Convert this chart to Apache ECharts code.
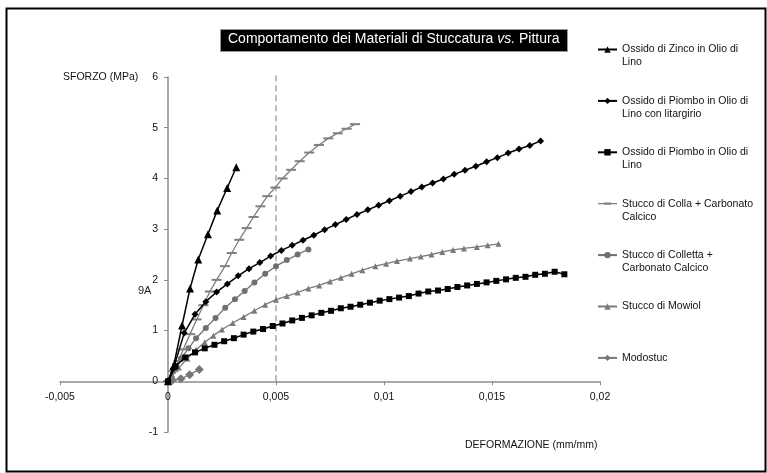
<!DOCTYPE html>
<html><head><meta charset="utf-8">
<script src="https://cdn.jsdelivr.net/npm/echarts@6/dist/echarts.min.js"></script>
<style>html,body{margin:0;padding:0;background:#fff}#c{width:767px;height:473px}</style>
</head><body><div id="c"></div>
<script>
// ---- data ----
const names = [
  'Ossido di Zinco in Olio di Lino',
  'Ossido di Piombo in Olio di Lino con litargirio',
  'Ossido di Piombo in Olio di Lino',
  'Stucco di Colla + Carbonato Calcico',
  'Stucco di Colletta + Carbonato Calcico',
  'Stucco di Mowiol',
  'Modostuc'
];
const legendLabels = [
  'Ossido di Zinco in Olio di\nLino',
  'Ossido di Piombo in Olio di\nLino con litargirio',
  'Ossido di Piombo in Olio di\nLino',
  'Stucco di Colla + Carbonato\nCalcico',
  'Stucco di Colletta +\nCarbonato Calcico',
  'Stucco di Mowiol\n ',
  'Modostuc\n '
];
const zincX = [0, 0.00026, 0.00065, 0.00102, 0.0014, 0.00185, 0.00228, 0.00274, 0.00316];
const zincY = [0, 0.30, 1.10, 1.83, 2.40, 2.90, 3.37, 3.81, 4.22];

const litX = [0, 0.00025, 0.00075, 0.00125, 0.00175, 0.00225, 0.00275, 0.00325, 0.00375, 0.00425, 0.00475,
  0.00525, 0.00575, 0.00625, 0.00675, 0.00725, 0.00775, 0.00825, 0.00875, 0.00925, 0.00975, 0.01025,
  0.01075, 0.01125, 0.01175, 0.01225, 0.01275, 0.01325, 0.01375, 0.01425, 0.01475, 0.01525, 0.01575,
  0.01625, 0.01675, 0.01725];
const litY = [0, 0.25, 0.95, 1.32, 1.57, 1.76, 1.92, 2.08, 2.22, 2.34, 2.47,
  2.58, 2.68, 2.78, 2.88, 2.99, 3.09, 3.19, 3.29, 3.38, 3.47, 3.56,
  3.65, 3.74, 3.83, 3.91, 3.99, 4.08, 4.16, 4.24, 4.33, 4.41, 4.50,
  4.58, 4.65, 4.74];

const pbX = [0, 0.00035, 0.0008, 0.00125, 0.0017, 0.00215, 0.0026, 0.00305, 0.0035, 0.00395, 0.0044,
  0.00485, 0.0053, 0.00575, 0.0062, 0.00665, 0.0071, 0.00755, 0.008, 0.00845, 0.0089, 0.00935,
  0.0098, 0.01025, 0.0107, 0.01115, 0.0116, 0.01205, 0.0125, 0.01295, 0.0134, 0.01385, 0.0143,
  0.01475, 0.0152, 0.01565, 0.0161, 0.01655, 0.017, 0.01745, 0.0179, 0.01835];
const pbY = [0, 0.30, 0.47, 0.57, 0.65, 0.72, 0.79, 0.85, 0.92, 0.98, 1.03,
  1.09, 1.14, 1.20, 1.25, 1.30, 1.35, 1.39, 1.44, 1.47, 1.51, 1.55,
  1.59, 1.62, 1.65, 1.68, 1.73, 1.77, 1.79, 1.82, 1.86, 1.89, 1.92,
  1.95, 1.98, 2.01, 2.04, 2.06, 2.10, 2.12, 2.16, 2.11];

const collaX = [0, 0.00025, 0.00048, 0.00071, 0.00102, 0.00133, 0.00164, 0.00194, 0.00225, 0.00264, 0.00295,
  0.0033, 0.00364, 0.00396, 0.00428, 0.0046, 0.00497, 0.0053, 0.0057, 0.0061, 0.00654, 0.00699,
  0.00742, 0.00786, 0.00827, 0.00866];
const collaY = [0, 0.20, 0.40, 0.63, 0.93, 1.22, 1.50, 1.77, 2.00, 2.27, 2.53,
  2.79, 3.02, 3.24, 3.45, 3.65, 3.82, 4.00, 4.17, 4.34, 4.51, 4.66,
  4.79, 4.89, 4.98, 5.07];

const collettaX = [0, 0.00025, 0.0006, 0.00095, 0.0013, 0.00175, 0.0022, 0.00265, 0.0031, 0.00355, 0.004,
  0.0045, 0.005, 0.0055, 0.006, 0.0065];
const collettaY = [0, 0.20, 0.45, 0.65, 0.85, 1.05, 1.25, 1.45, 1.62, 1.78, 1.95,
  2.12, 2.27, 2.39, 2.50, 2.60];

const mowiolX = [0, 0.0002, 0.0005, 0.0009, 0.0013, 0.0017, 0.0021, 0.0025, 0.003, 0.0035, 0.004,
  0.0045, 0.005, 0.0055, 0.006, 0.0065, 0.007, 0.0075, 0.008, 0.0085, 0.009, 0.0096,
  0.0101, 0.0106, 0.0112, 0.0117, 0.0122, 0.0127, 0.0132, 0.0137, 0.0143, 0.0148, 0.0153];
const mowiolY = [0, 0.12, 0.27, 0.45, 0.62, 0.77, 0.90, 1.02, 1.15, 1.27, 1.39,
  1.51, 1.61, 1.68, 1.75, 1.83, 1.89, 1.97, 2.04, 2.12, 2.19, 2.27,
  2.32, 2.37, 2.42, 2.46, 2.50, 2.55, 2.59, 2.62, 2.65, 2.68, 2.71];

const modoX = [0, 0.0001, 0.0002, 0.0006, 0.001, 0.00145];
const modoY = [0, 0.01, 0.02, 0.05, 0.13, 0.23];

const refLineX = [0.005, 0.005];
const refLineY = [0, 6.1];

const xTickLabels = ['-0,005', '0', '0,005', '0,01', '0,015', '0,02'];
const yTickLabels = ['-1', '0', '1', '2', '3', '4', '5', '6'];
const xMin = -0.005, xMax = 0.02, xStep = 0.005;
const yMin = -1, yMax = 6, yStep = 1;

// ---- chart ----
const pair = (xs, ys) => xs.map((x, i) => [x, ys[i]]);
const FONT = 'Liberation Sans, Arial, sans-serif';
const chart = echarts.init(document.getElementById('c'), null, {renderer: 'canvas'});

const GRID = {left: 60, top: 77, width: 540, height: 355};
// pixel offsets so the axes sit on the zero lines (labels follow the line)
const yAxisOffset = -GRID.width * (0 - xMin) / (xMax - xMin);
const xAxisOffset = -GRID.height * (0 - yMin) / (yMax - yMin);

function mk(name, xs, ys, color, symbol, size, lw, z) {
  return {
    name: name, type: 'line', data: pair(xs, ys), symbol: symbol, symbolSize: size,
    showAllSymbol: true, smooth: false, z: z || 2,
    lineStyle: {color: color, width: lw}, itemStyle: {color: color, borderWidth: 0},
    emphasis: {disabled: true}, animation: false
  };
}

const legendData = names.map((n, i) => i === 3
  ? {name: n, icon: 'path://M0,3.4H19V4.6H0Z M6,2.9H13V5.1H6Z'}
  : {name: n});

const option = {
  animation: false,
  backgroundColor: '#fff',
  grid: Object.assign({containLabel: false}, GRID),
  xAxis: {
    type: 'value', min: xMin, max: xMax, interval: xStep, offset: xAxisOffset,
    axisLine: {onZero: false, lineStyle: {color: '#8c8c8c', width: 1.5}},
    axisTick: {show: true, length: 4, lineStyle: {color: '#8c8c8c'}},
    splitLine: {show: false},
    axisLabel: {
      margin: 10, color: '#111', fontFamily: FONT, fontSize: 10.5,
      formatter: v => xTickLabels[Math.round((v - xMin) / xStep)]
    }
  },
  yAxis: {
    type: 'value', min: yMin, max: yMax, interval: yStep, offset: yAxisOffset,
    axisLine: {show: true, onZero: false, lineStyle: {color: '#8c8c8c', width: 1.5}},
    axisTick: {show: true, length: 4, lineStyle: {color: '#8c8c8c'}},
    splitLine: {show: false},
    axisLabel: {
      margin: 10, color: '#111', fontFamily: FONT, fontSize: 10.5,
      formatter: v => yTickLabels[Math.round((v - yMin) / yStep)]
    }
  },
  legend: {
    orient: 'vertical', left: 597, top: 30, padding: 0, itemGap: 12.4,
    itemWidth: 19, itemHeight: 8,
    data: legendData,
    selectedMode: false,
    formatter: n => ' \n' + legendLabels[names.indexOf(n)],
    textStyle: {fontFamily: FONT, fontSize: 10.5, lineHeight: 13, color: '#111'}
  },
  graphic: [
    {type: 'rect', left: 4, top: 6, shape: {width: 759, height: 463}, style: {fill: 'none', stroke: '#000', lineWidth: 2}, z: 100},
    {type: 'rect', left: 220, top: 29, shape: {width: 347, height: 22}, style: {fill: '#000', stroke: '#999', lineWidth: 1}, z: 100},
    {type: 'text', left: 228, top: 32, z: 101, style: {
      text: '{n|Comportamento dei Materiali di Stuccatura }{i|vs.}{n| Pittura}',
      rich: {
        n: {fill: '#fff', fontFamily: FONT, fontSize: 14},
        i: {fill: '#fff', fontFamily: FONT, fontSize: 14, fontStyle: 'italic'}
      }
    }},
    {type: 'text', left: 63, top: 72, z: 101, style: {text: 'SFORZO (MPa)', fill: '#111', fontFamily: FONT, fontSize: 10.5}},
    {type: 'text', left: 465, top: 440, z: 101, style: {text: 'DEFORMAZIONE (mm/mm)', fill: '#111', fontFamily: FONT, fontSize: 10.5}},
    {type: 'text', left: 138, top: 285, z: 101, style: {text: '9A', fill: '#222', fontFamily: FONT, fontSize: 11}}
  ],
  series: [
    {
      name: 'ref', type: 'line', data: pair(refLineX, refLineY), symbol: 'none', clip: false, z: 1,
      lineStyle: {color: '#999', width: 1.3, type: [6, 4]}, emphasis: {disabled: true}, silent: true
    },
    mk(names[5], mowiolX, mowiolY, '#7a7a7a', 'triangle', 6, 1.3, 2),
    mk(names[4], collettaX, collettaY, '#707070', 'circle', 6, 1.3, 2),
    mk(names[3], collaX, collaY, '#7f7f7f', 'rect', [10, 2], 1.3, 2),
    mk(names[6], modoX, modoY, '#777777', 'diamond', 9, 1.3, 2),
    mk(names[2], pbX, pbY, '#000', 'rect', 6, 1.5, 3),
    mk(names[1], litX, litY, '#000', 'diamond', 7, 1.5, 3),
    mk(names[0], zincX, zincY, '#000', 'triangle', 8, 1.5, 3)
  ]
};
chart.setOption(option);
</script>
</body></html>
